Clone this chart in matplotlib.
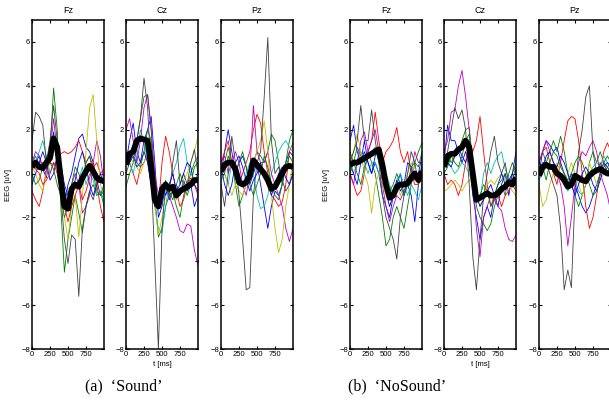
import matplotlib.pyplot as plt

# 时间轴 (ms)
t_ms = [0, 50, 100, 150, 200, 250, 300, 350, 400, 450, 500,
        550, 600, 650, 700, 750, 800, 850, 900, 950, 1000]

# 线条颜色 (MATLAB 默认 b g r c m y k, 循环)
line_colors = ['#0000ff', '#008000', '#ff0000', '#00bfbf', '#bf00bf', '#bfbf00', '#404040',
               '#0000ff', '#008000', '#ff0000']

# ---------- (a) 'Sound' ----------
sound_fz = [
    [0.2, 0.5, 0.8, 0.2, -0.2, 0.8, 1.9, 0.5, -1.0, -1.5, -0.5, 0.0, 0.8, 1.6, 1.8, 1.2, 1.0, 0.5, -0.3, -1.0, -0.8],
    [0.5, 0.8, 0.3, 0.5, 0.2, 1.0, 3.9, 2.0, -1.5, -4.5, -3.0, -2.0, -1.0, -1.8, -2.7, -1.5, -0.8, -0.5, -1.0, -0.8, -1.5],
    [-0.8, -1.2, -1.5, -0.8, 0.2, 0.5, 0.4, 0.6, 0.9, 1.0, 0.9, 1.0, 1.2, 1.5, 1.0, 0.5, 0.8, 0.3, 0.5, 0.0, 0.2],
    [0.8, 0.5, 1.0, 1.5, 0.8, 0.0, 0.5, 0.2, -0.5, -1.0, -0.8, -1.2, -0.5, -0.3, 0.3, -0.5, 0.0, -0.3, -1.0, -0.8, -1.2],
    [0.5, 1.0, 0.8, 0.3, 0.0, 1.0, 2.5, 1.0, 0.0, -0.8, -1.5, -0.5, 0.0, -0.5, -1.8, -1.5, -1.0, 0.5, 1.5, 0.8, -0.5],
    [0.3, 0.0, -0.5, -0.8, 0.0, 0.5, 1.5, 0.5, -1.0, -2.0, -3.0, -1.5, -1.0, -2.9, -1.0, 1.0, 3.0, 3.6, 1.5, -0.5, -1.0],
    [1.5, 2.8, 2.6, 2.2, 0.5, 1.5, 3.1, 1.5, -1.0, -3.0, -4.1, -2.8, -3.0, -5.6, -2.5, -1.5, -0.8, -1.2, -0.5, -0.3, -0.5],
    [-0.5, 0.0, 0.5, 1.0, 0.5, -0.3, 0.0, 0.8, 0.5, -0.5, -1.0, -0.8, -0.3, 0.5, 1.0, 0.3, -0.5, -1.0, -0.5, 0.0, -0.5],
    [0.0, -0.5, -0.3, 0.3, 0.8, 0.5, 0.2, -0.5, -1.0, -2.0, -1.5, -0.5, 0.3, 0.0, -0.5, 0.5, 0.8, 0.0, -0.8, -1.0, -0.5],
    [0.5, 0.2, 0.0, -0.5, -0.3, 0.0, 0.5, 0.0, -0.8, -1.5, -2.2, -1.5, -1.0, -0.5, -1.2, -0.8, -0.2, 0.5, -0.5, -1.5, -2.2],
]
sound_fz_mean = [0.3, 0.5, 0.3, 0.25, 0.5, 0.7, 1.6, 1.2, -0.3, -1.5, -1.6, -0.7, -0.5, -0.6, -0.2, 0.1, 0.35, 0.1, -0.2, -0.3, -0.35]

sound_cz = [
    [0.5, 1.5, 2.3, 1.0, 0.5, 1.5, 2.0, 2.6, 0.5, -2.0, -1.5, -0.5, -1.2, -0.8, -0.5, -1.0, -0.3, -0.8, -0.5, -1.5, -1.0],
    [-0.6, 0.0, 0.5, 1.5, 2.5, 3.5, 3.6, 2.0, -1.0, -2.9, -2.5, -1.5, -1.0, -0.8, -1.5, -2.0, -1.0, -0.5, 0.0, 0.5, 0.8],
    [0.8, 0.5, 0.0, -0.5, 0.3, 0.5, 1.0, 0.5, -0.5, -1.5, 0.5, 1.7, 1.0, 0.0, -0.8, -1.5, -1.2, -0.5, -0.2, -0.5, -1.0],
    [0.8, 0.5, 0.0, 0.8, 2.0, 1.5, 0.5, -0.5, -1.5, -2.5, -2.7, -1.5, -0.5, 0.0, 0.5, 1.2, 1.6, 0.5, 0.0, -0.3, 0.0],
    [2.0, 2.5, 1.5, 0.5, 1.5, 3.0, 3.6, 2.0, 0.0, -1.0, -0.8, -0.5, -1.0, -1.5, -2.0, -2.6, -2.7, -2.3, -2.4, -3.5, -4.2],
    [0.5, 0.8, 0.5, 0.3, 0.0, 0.5, 1.0, 0.5, -1.5, -2.8, -2.0, -1.0, -0.5, -0.8, -1.2, -0.8, -0.3, 0.0, 0.5, 1.0, 1.7],
    [0.0, 0.5, 1.0, 1.5, 2.5, 4.35, 3.0, 0.0, -4.0, -8.0, -2.5, -0.5, -1.0, 0.5, 1.5, -0.5, 0.0, -0.5, 0.5, 1.1, 0.0],
    [1.0, 0.5, 0.8, 0.3, 0.5, 1.0, 0.5, -0.5, -1.5, -1.0, -0.5, -1.0, -0.5, 0.0, -0.8, -0.5, 0.0, 0.5, 0.3, -0.5, -0.8],
    [0.5, 1.0, 0.8, 0.5, 0.3, 1.0, 2.0, 1.5, -0.5, -1.5, -1.0, -0.3, -0.8, -1.2, -0.5, 0.0, -0.5, -1.0, -0.5, 0.3, 0.5],
]
sound_cz_mean = [0.4, 0.9, 1.0, 1.5, 1.6, 1.55, 1.5, 0.3, -1.2, -1.5, -0.7, -0.5, -0.7, -0.6, -1.0, -0.8, -0.7, -0.6, -0.5, -0.3, -0.3]

sound_pz = [
    [0.0, 1.0, 2.0, 1.0, 0.0, 0.5, 0.8, 0.3, -0.5, 0.0, 0.5, -0.5, -1.5, -2.5, -1.5, -0.8, -1.0, -0.5, 0.5, 1.0, 0.8],
    [0.0, 0.5, 1.2, 0.5, -0.5, -1.5, -1.0, -0.5, 0.0, 0.5, 1.0, 0.8, 0.5, 1.0, 1.8, 1.5, 0.5, -0.5, 0.5, 1.5, 2.0],
    [0.5, 1.0, 1.5, 0.5, 0.0, -0.5, 0.0, 0.5, 1.0, 2.0, 2.7, 2.3, 1.0, 0.0, -1.0, -1.2, -1.5, -1.3, -0.5, 1.0, 1.4],
    [0.5, 0.0, -0.5, 0.5, 0.3, 0.0, -0.5, 0.0, 0.5, 0.0, -1.0, -1.6, -1.5, -1.0, 0.0, 0.5, 1.0, 1.3, 1.5, 1.2, 1.0],
    [0.5, 0.8, 0.0, 0.5, 1.0, 0.5, -0.5, -1.0, 0.0, 3.1, 1.0, 0.5, 0.5, 1.0, 0.0, -0.5, -1.0, -1.5, -2.5, -3.1, -2.5],
    [0.5, 0.0, -0.5, -1.0, -0.5, -0.8, -1.0, -0.5, 0.0, 0.5, 1.0, 1.5, 2.4, 1.0, -1.0, -2.5, -3.6, -3.0, -1.5, -0.5, 0.5],
    [-0.5, -1.5, 0.0, 1.7, 0.5, -1.0, -3.0, -5.3, -5.2, -1.0, 0.5, 1.0, 3.5, 6.2, 1.5, 0.0, 0.3, -0.3, -0.8, -0.5, 0.0],
    [0.3, -0.5, -1.0, -0.5, 0.5, 0.8, 0.3, -0.3, -0.8, -0.3, 0.0, 0.5, 0.0, -0.5, -1.0, -0.5, 0.0, 0.3, -0.2, -0.5, 0.0],
    [-0.3, 0.0, 0.8, 0.3, 0.0, 0.5, 1.0, 0.3, -0.5, -1.0, -0.5, 0.0, 0.8, 0.3, -0.5, -1.0, -1.2, -0.5, 0.3, 0.8, 0.5],
]
sound_pz_mean = [0.1, 0.4, 0.5, 0.5, 0.2, -0.4, -0.5, -0.4, -0.1, 0.6, 0.4, 0.2, 0.0, -0.3, -0.7, -0.6, -0.3, 0.0, 0.3, 0.35, 0.3]

# ---------- (b) 'NoSound' ----------
nosound_fz = [
    [1.5, 2.2, 1.0, 0.5, 1.5, 0.5, 0.0, 0.5, 0.0, -1.0, -1.5, -2.0, -1.0, -0.5, 0.0, -1.0, -0.5, -1.0, -2.2, -0.5, 0.3],
    [1.0, 0.5, 1.2, 0.8, 0.5, 1.0, 0.5, 0.0, -1.0, -2.0, -3.3, -3.0, -2.0, -1.5, -2.0, -2.5, -1.5, -0.5, 0.5, 1.0, 1.4],
    [0.0, -0.5, -1.0, -0.8, 0.0, 1.0, 1.5, 2.8, 1.5, 0.5, 1.0, 1.2, 1.5, 2.1, 1.0, 0.5, 1.0, 0.0, -0.5, -0.5, 0.0],
    [0.3, 0.0, 0.5, 1.0, 0.5, 0.0, 0.5, 0.5, 0.0, -0.2, 0.0, -0.5, -1.0, -0.3, 0.0, -0.5, -1.0, -0.5, -0.8, -1.2, -0.5],
    [0.0, -0.5, 0.5, 1.5, 1.9, 1.0, 1.5, 2.0, 1.0, -0.5, -1.5, -2.2, -1.5, -1.0, -1.2, -0.8, -0.5, 0.0, 1.0, 0.5, 0.5],
    [0.5, 1.0, 1.8, 1.0, 0.0, -0.5, -1.8, -0.5, 0.0, -0.5, -1.0, -1.5, -1.0, -0.5, -1.0, -0.5, 0.0, 0.5, 0.0, -0.5, -0.3],
    [0.5, 1.0, 1.5, 3.1, 1.5, 1.5, 2.9, 1.5, 0.5, -1.0, -2.0, -2.5, -3.0, -3.9, -2.0, -1.0, 0.0, 1.0, 0.5, -0.5, 0.5],
    [0.5, 0.0, -0.5, 0.5, 1.0, 0.5, 0.0, 0.8, 1.0, 0.0, -0.8, -1.5, -1.0, -0.3, -0.8, -0.5, 0.5, 0.3, -0.3, 0.0, 0.8],
    [0.0, 0.5, 0.0, -0.5, 0.3, 0.8, 1.0, 1.2, 0.5, 0.0, -0.5, -0.8, -0.5, 0.0, -0.5, -1.0, -0.5, 0.3, 0.5, 0.3, 1.0],
]
nosound_fz_mean = [0.4, 0.5, 0.5, 0.6, 0.7, 0.8, 0.9, 1.0, 1.1, 0.4, -0.5, -1.1, -1.0, -0.6, -0.5, -0.5, -0.45, -0.2, 0.0, -0.3, 0.1]

nosound_cz = [
    [0.5, 2.2, 1.5, 1.5, 1.0, 0.5, 1.0, 0.5, -1.0, -2.0, -3.0, -2.0, -1.5, -2.0, -1.0, -1.5, -0.5, 0.0, -1.0, 0.0, 1.0],
    [0.5, 0.8, 0.5, 0.8, 1.0, 1.5, 2.0, 2.1, 0.5, -1.5, -2.0, -2.3, -2.6, -2.3, -1.5, -1.0, -0.5, -1.0, 0.0, 0.5, 0.0],
    [0.0, -0.5, -0.3, -0.5, -1.0, -0.5, 0.5, 1.5, 1.0, 1.5, 2.6, 1.0, -0.5, -1.5, -1.2, -1.0, -1.5, -1.0, -0.8, -0.5, -0.8],
    [0.3, 0.5, 0.3, 0.0, 0.2, 0.5, 0.3, 0.0, -0.5, -1.0, -1.2, 0.0, 0.5, 0.0, 0.5, 0.8, 1.0, 0.2, -0.3, -0.5, -0.5],
    [1.0, 1.5, 2.8, 2.9, 4.0, 4.7, 3.5, 2.0, 0.0, -2.5, -3.8, -2.0, -1.5, -1.0, -1.2, -1.5, -1.7, -2.5, -3.0, -3.1, -2.8],
    [-0.8, -0.7, -0.5, -0.3, -0.5, -0.8, -0.5, -0.3, -0.5, -1.0, -1.5, -1.0, -0.5, -0.3, -0.5, -0.2, 0.0, -0.3, -0.5, -0.8, -1.0],
    [0.5, 1.0, 2.0, 3.0, 2.5, 2.9, 2.0, -0.5, -3.8, -5.3, -3.0, -1.0, 0.0, 1.0, 1.7, 0.5, 0.0, 0.5, -0.5, 0.0, 0.5],
    [1.0, 0.5, 0.3, 0.8, 1.2, 0.8, 0.5, 1.0, 0.0, -1.0, -1.5, -1.2, -0.8, -0.5, -1.0, -0.5, 0.0, -0.5, -0.3, 0.0, -0.3],
    [0.0, 0.3, 0.8, 0.5, 0.3, 0.8, 1.5, 1.8, 0.0, -1.2, -1.0, -0.5, -0.8, -1.5, -1.0, -0.5, -0.3, 0.0, -0.5, -0.3, 0.3],
]
nosound_cz_mean = [0.3, 0.8, 0.9, 0.9, 1.1, 1.2, 1.5, 1.2, 0.0, -1.2, -1.1, -1.0, -0.9, -1.0, -1.0, -0.9, -0.7, -0.6, -0.4, -0.5, -0.2]

nosound_pz = [
    [0.0, 1.0, 1.5, 1.3, 1.0, 1.2, 0.5, 0.0, -0.5, 0.0, -0.5, -1.0, -1.5, -1.8, -1.5, -1.0, -0.5, 0.0, 0.5, 0.3, 0.0],
    [0.5, 1.0, 0.5, 1.0, 1.5, 1.0, 1.7, 1.0, 0.0, -0.5, -1.0, -1.5, -1.0, -0.5, 0.5, 1.0, 0.5, 1.0, 0.5, 0.0, 0.5],
    [0.5, 1.0, 1.2, 0.5, 0.0, -0.5, 0.5, 1.5, 2.4, 2.6, 2.5, 1.5, 0.0, -1.5, -2.5, -2.0, -1.0, 0.0, 1.0, 1.4, 1.0],
    [-0.3, 0.0, 0.3, 0.5, 0.2, 0.0, -0.2, -0.5, -0.8, -0.5, -0.3, -0.8, -1.0, -0.5, 0.0, 0.3, 0.5, 0.3, 0.8, 0.5, 0.3],
    [0.5, 1.0, 1.5, 1.0, 0.5, 0.0, -0.5, -1.5, -3.3, -2.0, -0.5, 0.5, 1.0, 0.8, 1.2, 1.5, 1.0, 0.0, -0.5, -1.0, -1.8],
    [-0.5, -1.5, -1.2, -0.5, 0.0, 0.5, 0.0, -0.5, 0.0, 0.5, 0.0, -0.5, -1.0, -0.5, 0.5, 0.0, -0.5, -0.3, 0.0, 0.3, 0.5],
    [0.0, 0.5, 0.5, 0.0, -0.5, -1.0, -2.5, -5.3, -4.4, -5.2, -1.0, 1.0, 2.0, 3.5, 4.0, 1.0, 0.0, 0.5, 0.0, 0.3, 0.5],
    [0.5, 0.3, 0.8, 1.0, 0.5, 0.3, 0.8, 0.5, 0.0, -0.5, -1.0, -0.5, 0.0, 0.3, 0.0, -0.5, -0.8, -0.3, 0.3, 0.5, 0.3],
    [0.0, 0.3, -0.3, 0.5, 1.0, 0.8, 0.3, 0.0, -0.3, 0.0, 0.5, 0.8, 0.5, 0.0, -0.5, -1.0, -0.8, 0.0, 0.5, 0.8, 0.5],
]
nosound_pz_mean = [-0.1, 0.3, 0.4, 0.3, 0.3, 0.0, -0.1, -0.3, -0.6, -0.5, -0.1, -0.2, -0.3, -0.35, -0.1, 0.05, 0.15, 0.2, 0.1, 0.0, 0.0]

electrodes = ['Fz', 'Cz', 'Pz']
panels = [(sound_fz, sound_fz_mean), (sound_cz, sound_cz_mean), (sound_pz, sound_pz_mean),
          (nosound_fz, nosound_fz_mean), (nosound_cz, nosound_cz_mean), (nosound_pz, nosound_pz_mean)]

plt.rcParams['font.family'] = ['Liberation Sans', 'DejaVu Sans']

fig = plt.figure(figsize=(6.09, 4.07), dpi=100)

# 各子图左边界 (像素)
lefts_px = [32, 126, 221, 350, 444, 539]
W, H = 609.0, 407.0

for i, (lines, mean) in enumerate(panels):
    ax = fig.add_axes([lefts_px[i] / W, 1 - 349 / H, 72 / W, 329 / H])
    for vals, col in zip(lines, line_colors):
        ax.plot(t_ms, vals, color=col, linewidth=0.6)
    ax.plot(t_ms, mean, color='black', linewidth=4.2, solid_capstyle='butt')
    ax.set_xlim(0, 1000)
    ax.set_ylim(-8, 7)
    ax.set_xticks([0, 250, 500, 750])
    ax.set_yticks([-8, -6, -4, -2, 0, 2, 4, 6])
    ax.set_yticklabels(['\u22128', '\u22126', '\u22124', '\u22122', '0', '2', '4', '6'])
    ax.tick_params(direction='in', top=True, right=True, length=2.5, width=0.8,
                   labelsize=5.5, pad=1.5)
    for sp in ax.spines.values():
        sp.set_linewidth(1.1)
    ax.set_title(electrodes[i % 3], fontsize=6.5, pad=5)
    if i % 3 == 0:
        ax.set_ylabel('EEG [uV]', fontsize=5.5)
        ax.yaxis.set_label_coords(-0.28, 0.5)
    if i % 3 == 1:
        ax.set_xlabel('t [ms]', fontsize=5.5, labelpad=2)

# 图注
fig.text(124 / W, 1 - 386 / H, '(a)  \u2018Sound\u2019', family='Liberation Serif',
         fontsize=11.5, ha='center', va='center')
fig.text(397 / W, 1 - 386 / H, '(b)  \u2018NoSound\u2019', family='Liberation Serif',
         fontsize=11.5, ha='center', va='center')

fig.savefig('out.png', dpi=100)
